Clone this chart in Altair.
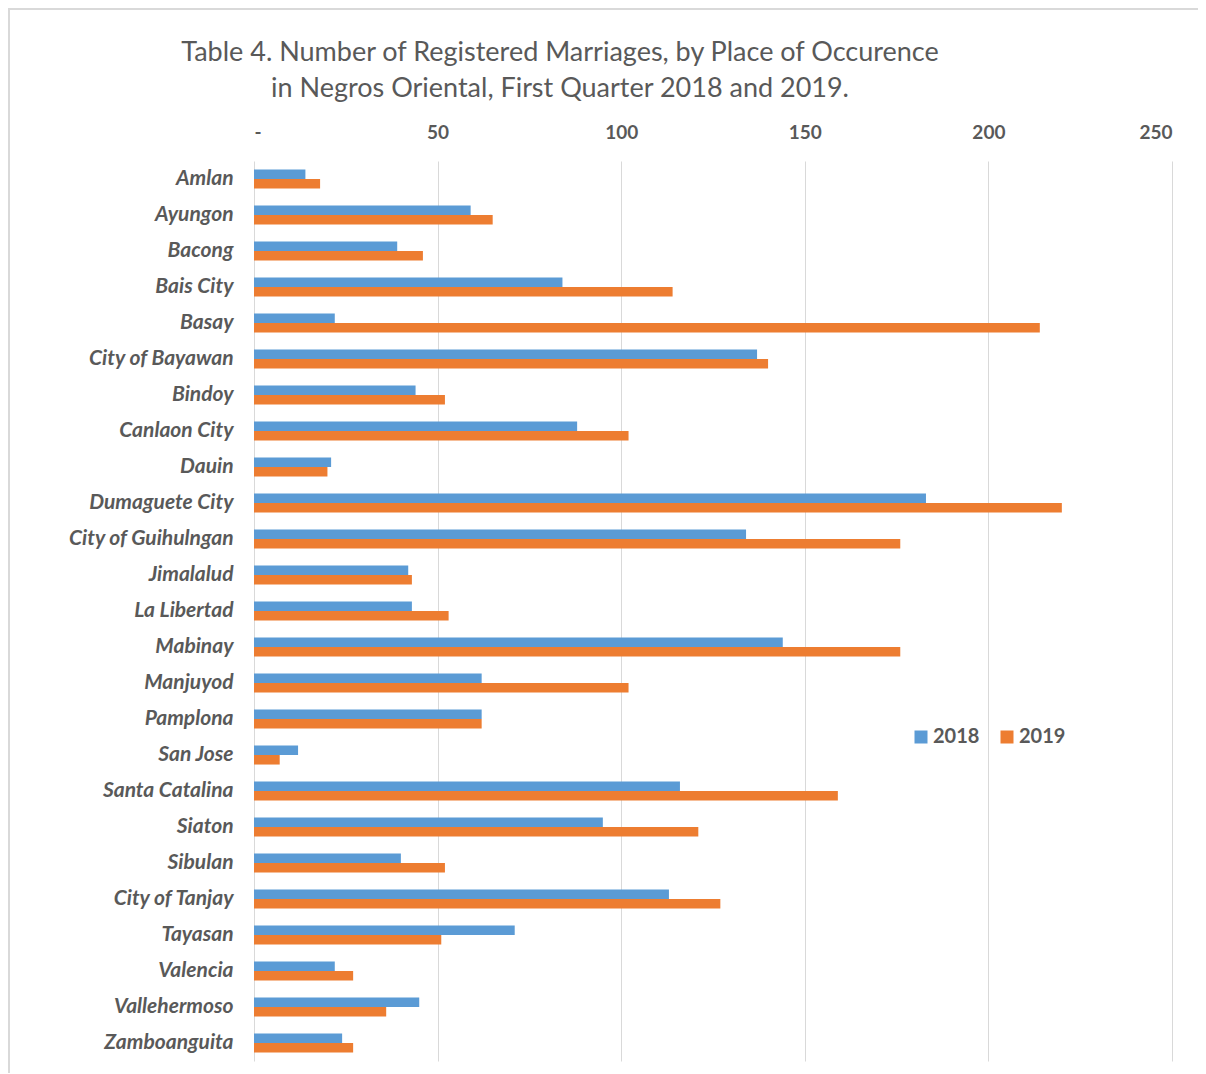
import altair as alt
import pandas as pd

places = ["Amlan", "Ayungon", "Bacong", "Bais City", "Basay", "City of Bayawan",
          "Bindoy", "Canlaon City", "Dauin", "Dumaguete City", "City of Guihulngan",
          "Jimalalud", "La Libertad", "Mabinay", "Manjuyod", "Pamplona", "San Jose",
          "Santa Catalina", "Siaton", "Sibulan", "City of Tanjay", "Tayasan",
          "Valencia", "Vallehermoso", "Zamboanguita"]
v2018 = [14, 59, 39, 84, 22, 137, 44, 88, 21, 183, 134, 42, 43, 144, 62, 62, 12,
         116, 95, 40, 113, 71, 22, 45, 24]
v2019 = [18, 65, 46, 114, 214, 140, 52, 102, 20, 220, 176, 43, 53, 176, 102, 62, 7,
         159, 121, 52, 127, 51, 27, 36, 27]
years = ["2018", "2019"]
x_ticks = [0, 50, 100, 150, 200, 250]

rows = []
for p, a, b in zip(places, v2018, v2019):
    rows.append({"place": p, "year": years[0], "count": a})
    rows.append({"place": p, "year": years[1], "count": b})
df = pd.DataFrame(rows)

GRAY = "#595959"
FONT = "Lato"

bars = alt.Chart(df).mark_bar().encode(
    y=alt.Y("place:N", sort=places, title=None,
            scale=alt.Scale(paddingInner=0.47, paddingOuter=0.235),
            axis=alt.Axis(labelFont=FONT, labelFontSize=21, labelFontWeight="bold",
                          labelFontStyle="italic", labelColor=GRAY, labelPadding=21,
                          ticks=False, domain=False)),
    yOffset=alt.YOffset("year:N", sort=years),
    x=alt.X("count:Q", title=None,
            scale=alt.Scale(domain=[0, 250], nice=False),
            axis=alt.Axis(orient="top", values=x_ticks, labelFont=FONT, labelFontSize=19,
                          labelFontWeight="bold", labelColor=GRAY, labelPadding=19,
                          ticks=False, domain=False, grid=True, gridColor="#d9d9d9",
                          labelExpr="datum.value == 0 ? '-' : datum.label")),
    color=alt.Color("year:N", sort=years,
                    scale=alt.Scale(domain=years, range=["#5B9BD5", "#ED7D31"]),
                    legend=alt.Legend(title=None, orient="none", legendX=657, legendY=566,
                                      direction="horizontal", symbolType="square",
                                      symbolSize=169, symbolStrokeWidth=0,
                                      labelFont=FONT, labelFontSize=20,
                                      labelFontWeight="bold", labelColor=GRAY,
                                      labelOffset=2, columnPadding=17, padding=0)),
)

frame = alt.Chart(pd.DataFrame({"a": [0]})).mark_rect(
    fill=None, stroke="#d9d9d9", strokeWidth=2
).encode(x=alt.value(-245), x2=alt.value(1000), y=alt.value(-152), y2=alt.value(1000))

chart = alt.layer(frame, bars).properties(
    width=918, height=900,
    title=alt.Title(["Table 4. Number of Registered Marriages, by Place of Occurence",
                     "in Negros Oriental, First Quarter 2018 and 2019."],
                    font=FONT, fontSize=27, fontWeight="normal", color=GRAY,
                    anchor="middle", dx=-153, offset=0, dy=95, lineHeight=36),
    autosize=alt.AutoSizeParams(type="none"),
    padding={"left": 246, "top": 153, "right": 26, "bottom": 12},
).configure_view(stroke=None)

chart.save("out.html", embed_options={"renderer": "svg", "actions": False})
